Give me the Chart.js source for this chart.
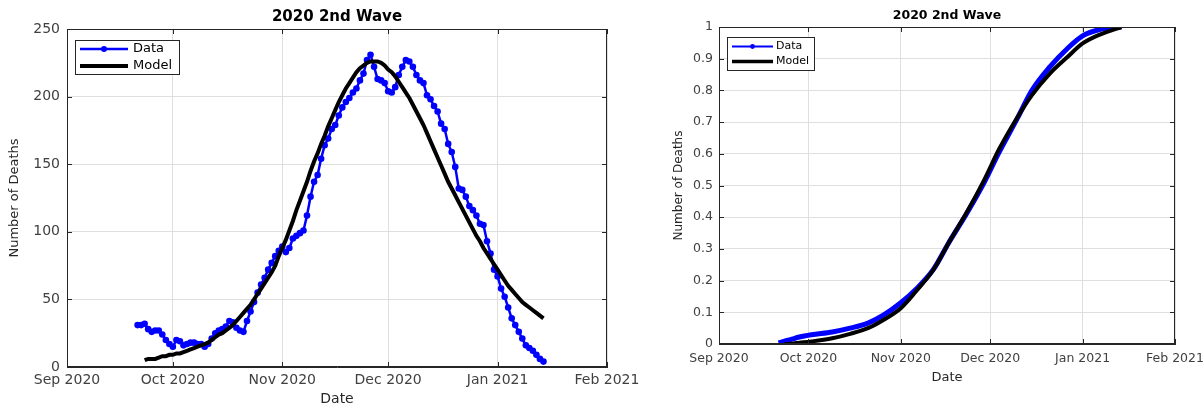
<!DOCTYPE html>
<html>
<head>
<meta charset="utf-8">
<title>2020 2nd Wave</title>
<script src="https://cdn.jsdelivr.net/npm/chart.js@4.4.1/dist/chart.umd.min.js"></script>
<style>
  html, body { margin: 0; padding: 0; background: #fff; }
  body { width: 1203px; height: 406px; position: relative; overflow: hidden; }
  canvas { position: absolute; top: 0; }
  #daily { left: 0; }
  #cumulative { left: 650px; }
</style>
</head>
<body>
<canvas id="daily" width="640" height="406"></canvas>
<canvas id="cumulative" width="553" height="406"></canvas>
<script>
// x values are days counted from 1 Sep 2020
const monthTicks = [0, 30, 61, 91, 122, 153];
const monthLabels = ["Sep 2020", "Oct 2020", "Nov 2020", "Dec 2020", "Jan 2021", "Feb 2021"];

// daily series, first value is 21 Sep 2020, one value per day up to 14 Jan 2021
const firstDay = 20;
const dailyDeaths = [
  31, 31, 32, 28, 26, 27, 27, 24, 20, 17,
  15, 20, 19, 16, 17, 18, 18, 17, 17, 15,
  17, 21, 25, 27, 28, 30, 34, 33, 29, 27,
  26, 34, 41, 48, 55, 61, 66, 72, 77, 82,
  86, 89, 85, 88, 95, 97, 99, 101, 112, 126,
  137, 142, 154, 164, 169, 176, 179, 186, 192, 196,
  199, 203, 206, 212, 217, 227, 231, 222, 213, 212,
  210, 204, 203, 207, 216, 222, 227, 226, 222, 216,
  212, 210, 201, 198, 193, 189, 180, 176, 165, 159,
  148, 132, 131, 126, 119, 116, 112, 106, 105, 93,
  84, 72, 67, 58, 52, 44, 36, 31, 26, 21,
  16, 14, 12, 9, 6, 4
];
const modelDeaths = [
  null, null, 5, 6, 6, 6, 7, 8, 8, 9,
  9, 10, 10, 11, 12, 13, 14, 15, 16, 17,
  18, 20, 22, 24, 25, 27, 29, 31, 34, 37,
  40, 43, 46, 50, 54, 58, 62, 66, 70, 75,
  82, 88, 94, 101, 108, 116, 123, 130, 137, 145,
  152, 158, 165, 171, 178, 184, 190, 196, 201, 206,
  210, 214, 218, 221, 223, 225, 226, 226, 226, 225,
  223, 220, 218, 215, 211, 207, 203, 199, 194, 189,
  184, 179, 173, 167, 161, 155, 149, 143, 137, 132,
  127, 122, 117, 112, 107, 102, 97, 93, 88, 84,
  80, 76, 72, 68, 64, 60, 57, 54, 51, 48,
  46, 44, 42, 40, 38, 36
];

// cumulative (normalised) series, read at these days
const cumDays = [20, 22, 24, 27, 31, 38, 44, 50, 55, 61, 66, 72, 77, 83, 89, 94, 100, 105, 111, 117, 122, 128, 135];
const cumData = [0.003, 0.009, 0.014, 0.022, 0.029, 0.038, 0.050, 0.066, 0.090, 0.130, 0.172, 0.236, 0.318, 0.410, 0.510, 0.605, 0.710, 0.800, 0.874, 0.933, 0.972, 0.993, 1.0];
const cumModel = [null, 0.000, 0.001, 0.004, 0.008, 0.018, 0.032, 0.050, 0.075, 0.113, 0.165, 0.235, 0.318, 0.413, 0.518, 0.615, 0.713, 0.785, 0.853, 0.906, 0.948, 0.977, 1.0];

const axisColor = "#262626";
const gridColor = "#dfdfdf";
const labelColor = "#404040";

Chart.defaults.font.family = "'DejaVu Sans', sans-serif";
Chart.defaults.animation = false;

// matlab style box, inward ticks and the legend inside the axes
const matlabBox = {
  id: "matlabBox",
  afterDraw(chart, args, opts) {
    const {ctx, chartArea: a, scales: {x, y}} = chart;
    ctx.save();
    ctx.strokeStyle = axisColor;
    ctx.lineWidth = 1;
    ctx.strokeRect(a.left + 0.5, a.top + 0.5, a.right - a.left - 1, a.bottom - a.top - 1);
    ctx.beginPath();
    x.ticks.forEach(t => {
      const px = Math.round(x.getPixelForValue(t.value)) + 0.5;
      ctx.moveTo(px, a.bottom); ctx.lineTo(px, a.bottom - 5);
      ctx.moveTo(px, a.top); ctx.lineTo(px, a.top + 5);
    });
    y.ticks.forEach(t => {
      const py = Math.round(y.getPixelForValue(t.value)) + 0.5;
      ctx.moveTo(a.left, py); ctx.lineTo(a.left + 5, py);
      ctx.moveTo(a.right, py); ctx.lineTo(a.right - 5, py);
    });
    ctx.stroke();

    const L = opts;
    const bx = a.left + L.dx, by = a.top + L.dy;
    ctx.fillStyle = "#fff";
    ctx.fillRect(bx, by, L.w, L.h);
    ctx.strokeRect(bx + 0.5, by + 0.5, L.w, L.h);
    ctx.font = L.size + "px 'DejaVu Sans'";
    ctx.textBaseline = "middle";
    chart.data.datasets.forEach((ds, i) => {
      const ry = by + L.rows[i];
      const x0 = bx + L.pad, x1 = x0 + L.len;
      ctx.strokeStyle = ds.borderColor;
      ctx.lineWidth = L.widths[i];
      ctx.beginPath();
      ctx.moveTo(x0, ry); ctx.lineTo(x1, ry);
      ctx.stroke();
      if (i === 0) {
        ctx.fillStyle = ds.borderColor;
        ctx.beginPath();
        ctx.arc((x0 + x1) / 2, ry, L.markerR, 0, Math.PI * 2);
        ctx.fill();
      }
      ctx.fillStyle = "#000";
      ctx.fillText(ds.label, x1 + L.gap, ry);
    });
    ctx.restore();
  }
};

function xAxis(s) {
  return {
    type: "linear", min: 0, max: 153,
    afterBuildTicks: sc => { sc.ticks = monthTicks.map(v => ({value: v})); },
    afterFit: sc => { sc.height = s.height; sc.paddingLeft = 0; sc.paddingRight = 0; },
    ticks: {autoSkip: false, maxRotation: 0, padding: s.tickPad, color: labelColor,
            font: {size: s.tickSize}, callback: (v, i) => monthLabels[i]},
    grid: {color: gridColor, drawTicks: false},
    border: {color: axisColor},
    title: {display: true, text: "Date", color: axisColor,
            font: {size: s.titleSize, lineHeight: s.titleLH}, padding: {top: 0, bottom: s.titlePad}}
  };
}

function yAxis(s) {
  return {
    min: 0, max: s.max,
    afterFit: sc => { sc.width = s.width; sc.paddingTop = 0; sc.paddingBottom = 0; },
    ticks: {stepSize: s.step, padding: s.tickPad, color: labelColor, font: {size: s.tickSize},
            callback: v => String(Math.round(v * 10) / 10)},
    grid: {color: gridColor, drawTicks: false},
    border: {color: axisColor},
    title: {display: true, text: "Number of Deaths", color: axisColor,
            font: {size: s.titleSize}, padding: {top: s.titlePad, bottom: 0}}
  };
}

// left: daily deaths
new Chart(document.getElementById("daily"), {
  type: "line",
  data: {
    datasets: [{
      label: "Data",
      data: dailyDeaths.map((v, i) => ({x: firstDay + i, y: v})),
      borderColor: "#0000ff",
      backgroundColor: "#0000ff",
      borderWidth: 2.5,
      pointRadius: 3.3,
      pointBorderWidth: 0,
      pointBackgroundColor: "#0000ff",
      tension: 0,
      order: 1
    }, {
      label: "Model",
      data: modelDeaths.map((v, i) => ({x: firstDay + i, y: v})),
      borderColor: "#000000",
      borderWidth: 4,
      pointRadius: 0,
      tension: 0,
      order: 0
    }]
  },
  options: {
    responsive: false,
    layout: {padding: {left: 0, right: 33, top: 0, bottom: 0}},
    scales: {
      x: xAxis({height: 39, tickPad: 5, tickSize: 14, titleSize: 14, titleLH: 1, titlePad: 0}),
      y: yAxis({max: 250, step: 50, width: 67, tickPad: 7, tickSize: 14, titleSize: 13, titlePad: 7})
    },
    plugins: {
      legend: {display: false},
      tooltip: {enabled: false},
      title: {display: true, fullSize: false, text: "2020 2nd Wave", color: "#000",
              font: {size: 15, weight: "bold"}, padding: {top: 8, bottom: 3}},
      matlabBox: {dx: 8, dy: 11, w: 104, h: 34, pad: 5, len: 48, gap: 5, rows: [9, 26],
                  size: 13, markerR: 3, widths: [2.5, 4]}
    }
  },
  plugins: [matlabBox]
});

// right: cumulative share
new Chart(document.getElementById("cumulative"), {
  type: "line",
  data: {
    datasets: [{
      label: "Data",
      data: cumData.map((v, i) => ({x: cumDays[i], y: v})),
      borderColor: "#0000ff",
      borderWidth: 5,
      pointRadius: 0,
      cubicInterpolationMode: "monotone",
      order: 1
    }, {
      label: "Model",
      data: cumModel.map((v, i) => ({x: cumDays[i], y: v})),
      borderColor: "#000000",
      borderWidth: 4,
      pointRadius: 0,
      cubicInterpolationMode: "monotone",
      order: 0
    }]
  },
  options: {
    responsive: false,
    layout: {padding: {left: 0, right: 28, top: 0, bottom: 0}},
    scales: {
      x: xAxis({height: 62, tickPad: 7, tickSize: 12.5, titleSize: 13, titleLH: 1.2, titlePad: 21}),
      y: yAxis({max: 1, step: 0.1, width: 69, tickPad: 6, tickSize: 12.5, titleSize: 12, titlePad: 22})
    },
    plugins: {
      legend: {display: false},
      tooltip: {enabled: false},
      title: {display: true, fullSize: false, text: "2020 2nd Wave", color: "#000",
              font: {size: 12.5, weight: "bold"}, padding: {top: 8.5, bottom: 3.5}},
      matlabBox: {dx: 8, dy: 10, w: 87, h: 33, pad: 5, len: 41, gap: 3, rows: [9.5, 24.5],
                  size: 11, markerR: 2.4, widths: [2, 3.5]}
    }
  },
  plugins: [matlabBox]
});
</script>
</body>
</html>
